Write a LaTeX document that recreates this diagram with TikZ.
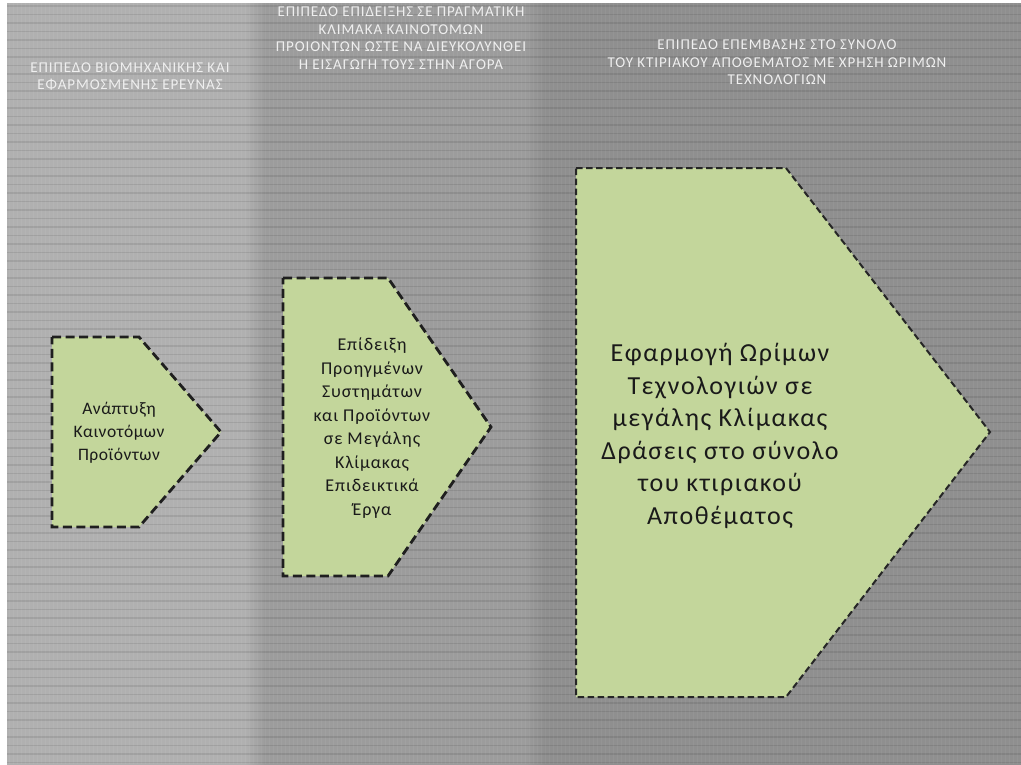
\documentclass[tikz,border=0pt]{standalone}
\usepackage{fontspec}
\setmainfont{Carlito}
\definecolor{bandA}{HTML}{B0B0B0}
\definecolor{bandB}{HTML}{9C9C9C}
\definecolor{bandC}{HTML}{8F8F8F}
\definecolor{boxfill}{HTML}{C3D69B}
\definecolor{headtext}{HTML}{EFEFEF}
\definecolor{boxtext}{HTML}{1A1A1A}
\tikzset{
  stagebox/.style={fill=boxfill, draw=black!88, line width=2.8pt, dash pattern=on 9pt off 4.5pt, line join=miter},
  bigstagebox/.style={fill=boxfill, draw=black!85, line width=2pt, dash pattern=on 6.5pt off 3.5pt, line join=miter},
  headlabel/.style={text=headtext, align=center, font=\addfontfeature{LetterSpace=6}\fontsize{15}{17.5}\selectfont, inner sep=0pt},
  boxlabel/.style={text=boxtext, align=center, inner sep=0pt},
}
\begin{document}
\begin{tikzpicture}[x=1pt,y=-1pt]
\useasboundingbox (0,0) rectangle (1021,764);
\fill[white] (0,0) rectangle (1021,764);
% background bands
\begin{scope}
\clip (7,3) rectangle (1021,764);
\fill[bandA] (7,0) rectangle (250,770);
\shade[left color=bandA,right color=bandB] (245,0) rectangle (265,770);
\fill[bandB] (264,0) rectangle (528,770);
\shade[left color=bandB,right color=bandC] (525,0) rectangle (545,770);
\fill[bandC] (544,0) rectangle (1021,770);
% texture
\foreach \yy in {6,14.5,...,764} {
  \draw[black, opacity=0.09, line width=1.2pt] (7,\yy) -- (1021,\yy);
}
\foreach \xx in {9,13,...,1021} {
  \draw[white, opacity=0.05, line width=1pt] (\xx,3) -- (\xx,764);
}
\end{scope}
% headers
\node[headlabel] (h1) at (130,76.5) {ΕΠΙΠΕΔΟ  ΒΙΟΜΗΧΑΝΙΚΗΣ ΚΑΙ\\ΕΦΑΡΜΟΣΜΕΝΗΣ ΕΡΕΥΝΑΣ};
\node[headlabel] (h2) at (401,38) {ΕΠΙΠΕΔΟ  ΕΠΙΔΕΙΞΗΣ ΣΕ ΠΡΑΓΜΑΤΙΚΗ\\ΚΛΙΜΑΚΑ ΚΑΙΝΟΤΟΜΩΝ\\ΠΡΟΙΟΝΤΩΝ ΏΣΤΕ ΝΑ ΔΙΕΥΚΟΛΥΝΘΕΙ\\Η ΕΙΣΑΓΩΓΗ ΤΟΥΣ ΣΤΗΝ ΑΓΟΡΑ};
\node[headlabel] (h3) at (777,62.5) {ΕΠΙΠΕΔΟ  ΕΠΕΜΒΑΣΗΣ ΣΤΟ ΣΥΝΟΛΟ\\ΤΟΥ ΚΤΙΡΙΑΚΟΥ ΑΠΟΘΕΜΑΤΟΣ ΜΕ ΧΡΗΣΗ ΩΡΙΜΩΝ\\ΤΕΧΝΟΛΟΓΙΩΝ};
% stage shapes
\draw[stagebox] (52,337) -- (139,337) -- (221,432) -- (139,527) -- (52,527) -- cycle;
\draw[stagebox] (283,278) -- (388,278) -- (491,427) -- (388,576) -- (283,576) -- cycle;
\draw[bigstagebox] (576,168) -- (786,168) -- (990,432) -- (786,697) -- (576,697) -- cycle;
% stage labels
\node[boxlabel, font=\addfontfeature{LetterSpace=3}\fontsize{17.5}{23}\selectfont] (s1) at (119,433) {Ανάπτυξη\\Καινοτόμων\\Προϊόντων};
\node[boxlabel, font=\addfontfeature{LetterSpace=5}\fontsize{18}{23.5}\selectfont] (s2) at (372,428) {Επίδειξη\\Προηγμένων\\Συστημάτων\\και Προϊόντων\\σε Μεγάλης\\Κλίμακας\\Επιδεικτικά\\Έργα};
\node[boxlabel, font=\addfontfeature{LetterSpace=6}\fontsize{26}{32.5}\selectfont] (s3) at (720,436) {Εφαρμογή Ωρίμων\\Τεχνολογιών σε\\μεγάλης Κλίμακας\\Δράσεις στο σύνολο\\του  κτιριακού\\Αποθέματος};
\end{tikzpicture}
\end{document}
